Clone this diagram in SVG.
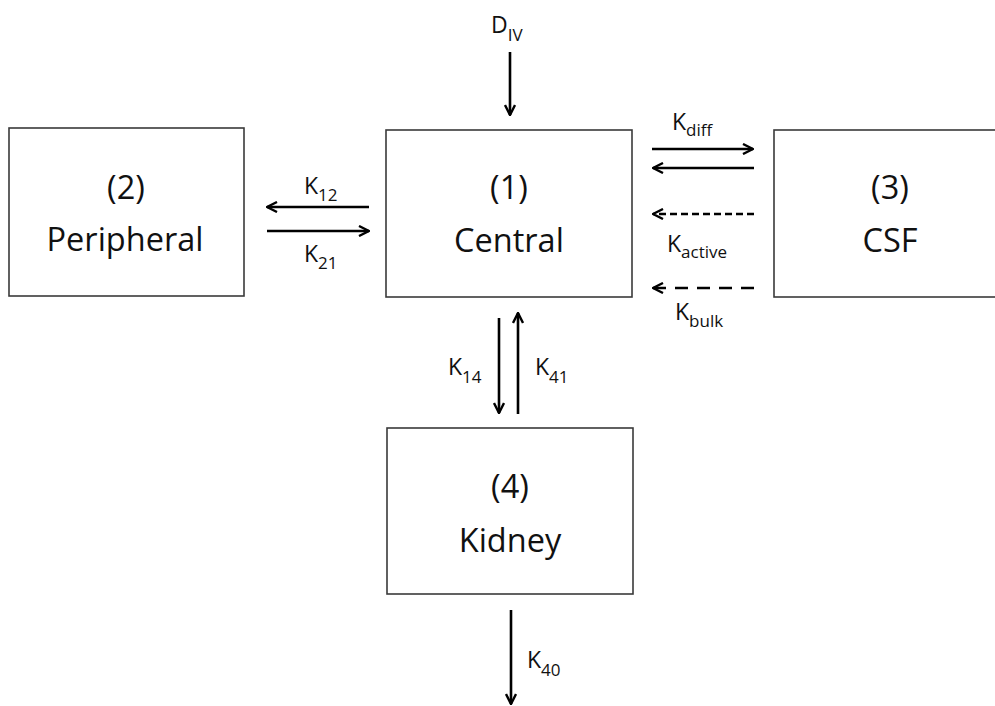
<svg xmlns="http://www.w3.org/2000/svg" width="995" height="706" viewBox="0 0 995 706">
<defs>
<style>
.box{fill:#fff;stroke:#3a3a3a;stroke-width:1.6}
.t{font-family:"Open Sans","Noto Sans",sans-serif;font-size:32.5px;fill:#111;text-anchor:middle}
.l{font-family:"Open Sans","Noto Sans",sans-serif;font-size:23px;fill:#111}
.s{font-size:17px}
.a{stroke:#000;stroke-width:2.6;fill:none}
.d1{stroke-dasharray:7 4}
.d2{stroke-dasharray:13 9}
</style>
<marker id="ah" viewBox="0 0 12 12" refX="11" refY="6" markerWidth="12" markerHeight="12" markerUnits="userSpaceOnUse" orient="auto">
<path d="M1,1 L11,6 L1,11" fill="none" stroke="#000" stroke-width="2.4"/>
</marker>
</defs>
<rect width="995" height="706" fill="#fff"/>
<g id="peripheral">
<rect class="box" x="9" y="128" width="235" height="168"/>
<text class="t" x="126" y="199">(2)</text>
<text class="t" x="125" y="251">Peripheral</text>
</g>
<g id="central">
<rect class="box" x="386" y="130" width="246" height="167"/>
<text class="t" x="509" y="199">(1)</text>
<text class="t" x="509" y="252">Central</text>
</g>
<g id="csf">
<rect class="box" x="774" y="130" width="230" height="167"/>
<text class="t" x="890" y="199">(3)</text>
<text class="t" x="890" y="252">CSF</text>
</g>
<g id="kidney">
<rect class="box" x="387" y="428" width="246" height="166"/>
<text class="t" x="510" y="498">(4)</text>
<text class="t" x="510" y="552">Kidney</text>
</g>
<g id="connectors">
<line class="a" x1="510" y1="52" x2="510" y2="115" marker-end="url(#ah)"/>
<line class="a" x1="369" y1="207" x2="267" y2="207" marker-end="url(#ah)"/>
<line class="a" x1="267" y1="231" x2="369" y2="231" marker-end="url(#ah)"/>
<line class="a" x1="652" y1="149" x2="753" y2="149" marker-end="url(#ah)"/>
<line class="a" x1="754" y1="168" x2="653" y2="168" marker-end="url(#ah)"/>
<line class="a d1" x1="754" y1="214" x2="653" y2="214" marker-end="url(#ah)"/>
<line class="a d2" x1="754" y1="288" x2="653" y2="288" marker-end="url(#ah)"/>
<line class="a" x1="499" y1="318" x2="499" y2="413" marker-end="url(#ah)"/>
<line class="a" x1="518" y1="414" x2="518" y2="313" marker-end="url(#ah)"/>
<line class="a" x1="511" y1="610" x2="511" y2="704" marker-end="url(#ah)"/>
</g>
<g id="labels">
<text class="l" x="491" y="33">D<tspan class="s" dy="8">IV</tspan></text>
<text class="l" x="304" y="194">K<tspan class="s" dy="7">12</tspan></text>
<text class="l" x="304" y="262">K<tspan class="s" dy="7">21</tspan></text>
<text class="l" x="672" y="130">K<tspan class="s" dy="6">diff</tspan></text>
<text class="l" x="667" y="252">K<tspan class="s" dy="6">active</tspan></text>
<text class="l" x="675" y="320">K<tspan class="s" dy="7">bulk</tspan></text>
<text class="l" x="448" y="375">K<tspan class="s" dy="8">14</tspan></text>
<text class="l" x="535" y="375">K<tspan class="s" dy="8">41</tspan></text>
<text class="l" x="527" y="668">K<tspan class="s" dy="8">40</tspan></text>
</g>
</svg>
